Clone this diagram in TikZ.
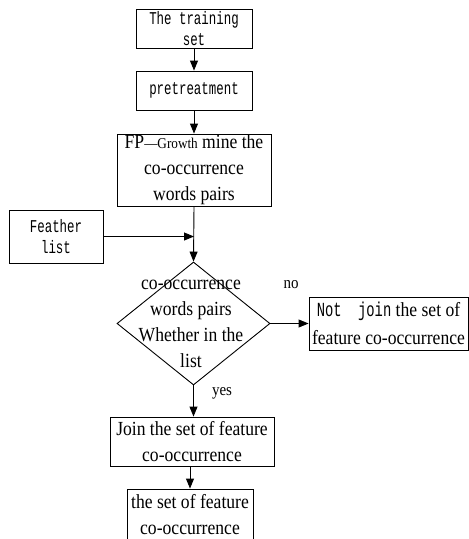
\documentclass[tikz,border=0pt]{standalone}
\usepackage{fontspec}
\usetikzlibrary{arrows.meta,shapes.geometric}
\newfontfamily\serifc{Liberation Serif}[FakeStretch=0.88]
\newfontfamily\monoc{Liberation Mono}[FakeStretch=0.69]
\newcommand{\tx}{\serifc\fontsize{20}{26}\selectfont}
\newcommand{\mx}{\monoc\fontsize{18}{21}\selectfont}
\begin{document}
\begin{tikzpicture}[x=1pt,y=-1pt,
  box/.style={draw, line width=0.9pt, inner sep=0pt, align=center},
  flow/.style={-{Triangle[length=10pt,width=8pt]}, line width=0.9pt},
  lbl/.style={inner sep=0pt, font=\serifc\fontsize{17}{20}\selectfont}]
\useasboundingbox (0,0) rectangle (469,539);
\clip (0,0) rectangle (469,539);

% main column
\node[box, minimum width=116pt, minimum height=39pt, font=\mx] (train) at (194,28.5) {The training\\set};
\node[box, minimum width=116pt, minimum height=39pt, font=\mx] (pre) at (194,90.5) {pretreatment};
\node[box, minimum width=154pt, minimum height=72pt, font=\tx] (fp) at (194,170)
  {FP{\fontsize{15}{26}\selectfont —Growth} mine the\\co-occurrence\\words pairs};
\node[box, minimum width=94pt, minimum height=53pt, font=\mx] (feat) at (56,236.5) {Feather\\list};

% decision
\node[draw, line width=0.9pt, shape=diamond, minimum width=153pt, minimum height=123pt, inner sep=0pt] (dec) at (193.5,323.5) {};
\node[inner sep=0pt, align=center, font=\tx] (dectext) at (191,323.5) {co-occurrence\\words pairs\\Whether in the\\list};

\node[box, minimum width=159pt, minimum height=53pt, font=\tx] (nojoin) at (388.5,323.5)
  {{\monoc\fontsize{20}{26}\selectfont Not~ join} the set of\\[2pt]feature co-occurrence};
\node[box, minimum width=164pt, minimum height=49pt, font=\tx] (join) at (192,441.5)
  {Join the set of feature\\co-occurrence};
\node[box, minimum width=126pt, minimum height=52pt, font=\tx] (final) at (190,515)
  {the set of feature\\co-occurrence};

% connectors
\coordinate (merge) at (fp.south |- feat.east);
\draw[flow] (train) -- (pre);
\draw[flow] (pre) -- (fp);
\draw[flow] (fp.south) -- (dec.north);
\draw[flow] (feat.east) -- (merge);
\draw[flow] (dec.east) -- (nojoin.west);
\draw[flow] (dec.south) -- (dec.south |- join.north);
\draw[flow] (join.south -| final.north) -- (final.north);

% branch labels
\node[lbl] (no) at (291,285) {no};
\node[lbl] (yes) at (222,393) {yes};
\end{tikzpicture}
\end{document}
